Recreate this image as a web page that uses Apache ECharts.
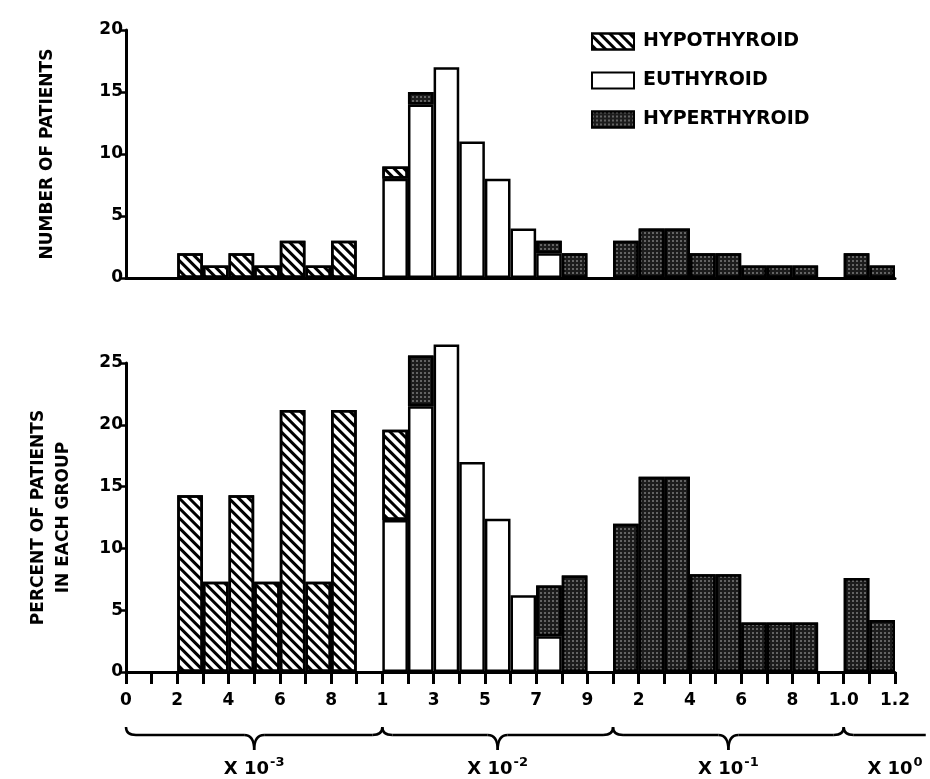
<!DOCTYPE html>
<html>
<head>
<meta charset="utf-8">
<script src="https://cdn.jsdelivr.net/npm/echarts@6/dist/echarts.min.js"></script>
<style>
  html, body { margin: 0; padding: 0; background: #fff; }
  #main { width: 930px; height: 779px; }
</style>
</head>
<body>
<div id="main"></div>
<script>
// bins: lower edge of each class (x10^-3 .. x10^0)
var bins = ['0.000','0.001','0.002','0.003','0.004','0.005','0.006','0.007','0.008','0.009',
            '0.01','0.02','0.03','0.04','0.05','0.06','0.07','0.08','0.09',
            '0.1','0.2','0.3','0.4','0.5','0.6','0.7','0.8','0.9',
            '1.0','1.1'];

// labels written under the tick marks (31 ticks)
var tickLabels = ['0','','2','','4','','6','','8','',
                  '1','','3','','5','','7','','9','',
                  '2','','4','','6','','8','','1.0','','1.2'];

// number of patients
var hypoCount  = [null,null,2,1,2,1,3,1,3,null, 1,null,null,null,null,null,null,null,null, null,null,null,null,null,null,null,null,null, null,null];
var euthCount  = [null,null,null,null,null,null,null,null,null,null, 8,14,17,11,8,4,2,null,null, null,null,null,null,null,null,null,null,null, null,null];
var hyperCount = [null,null,null,null,null,null,null,null,null,null, null,1,null,null,null,null,1,2,null, 3,4,4,2,2,1,1,1,null, 2,1];

// percent of patients in each group
var hypoPct  = [null,null,14.3,7.3,14.3,7.3,21.2,7.3,21.2,null, 7.3,null,null,null,null,null,null,null,null, null,null,null,null,null,null,null,null,null, null,null];
var euthPct  = [null,null,null,null,null,null,null,null,null,null, 12.3,21.5,26.5,17.0,12.4,6.2,2.9,null,null, null,null,null,null,null,null,null,null,null, null,null];
var hyperPct = [null,null,null,null,null,null,null,null,null,null, null,4.1,null,null,null,null,4.1,7.8,null, 12.0,15.8,15.8,7.9,7.9,4.0,4.0,4.0,null, 7.6,4.2];

// decade groups under the axis (tick index range + exponent)
var groupFrom = [0, 10, 19, 28];
var groupTo   = [10, 19, 28, 31.2];
var groupExp  = ['-3', '-2', '-1', '0'];

var FONT = 'DejaVu Sans';
var myChart = echarts.init(document.getElementById('main'));

var hypoStyle = {
    color: '#fff', borderColor: '#000', borderWidth: 2.5,
    decal: { symbol: 'rect', symbolSize: 1, color: '#000', dashArrayX: [1, 0], dashArrayY: [3, 4], rotation: Math.PI / 4 }
};
var euthStyle = { color: '#fff', borderColor: '#000', borderWidth: 2.5 };
var hyperStyle = {
    color: '#1c1c1c', borderColor: '#000', borderWidth: 2.5,
    decal: { symbol: 'rect', symbolSize: 0.7, color: 'rgba(255,255,255,0.6)', dashArrayX: [2, 2], dashArrayY: [2, 2] }
};

function yAxisOf(grid, max, name, gap) {
    return {
        type: 'value', gridIndex: grid, min: 0, max: max, interval: 5,
        name: name, nameLocation: 'middle', nameGap: gap, nameRotate: 90,
        nameTextStyle: { fontFamily: FONT, fontWeight: 'bold', fontSize: 17, color: '#000', lineHeight: 25, align: 'center' },
        axisLine: { show: true, lineStyle: { color: '#000', width: 3 } },
        axisTick: { show: true, length: 7, lineStyle: { color: '#000', width: 2.5 } },
        axisLabel: { fontFamily: FONT, fontWeight: 'bold', fontSize: 17, color: '#000', margin: 3 },
        splitLine: { show: false }
    };
}

function barSeries(name, x, y, stack, data, style) {
    return {
        name: name, type: 'bar', xAxisIndex: x, yAxisIndex: y, stack: stack,
        barCategoryGap: '0%', clip: false, data: data, itemStyle: style,
        emphasis: { disabled: true }
    };
}

var option = {
    animation: false,
    backgroundColor: '#fff',
    legend: {
        orient: 'vertical', left: 586, top: 27, itemGap: 20,
        itemWidth: 42, itemHeight: 16, icon: 'rect',
        data: ['HYPOTHYROID', 'EUTHYROID', 'HYPERTHYROID'],
        textStyle: { fontFamily: FONT, fontWeight: 'bold', fontSize: 19, color: '#000', padding: [0, 0, 0, 4] }
    },
    grid: [
        { left: 126, right: 35, top: 30, height: 248 },
        { left: 126, right: 35, top: 363, height: 309 }
    ],
    xAxis: [
        {
            type: 'category', gridIndex: 0, data: bins,
            axisLine: { lineStyle: { color: '#000', width: 3 } },
            axisTick: { show: false }, axisLabel: { show: false }
        },
        {
            type: 'category', gridIndex: 1, data: bins, position: 'bottom',
            axisLine: { lineStyle: { color: '#000', width: 3 } },
            axisTick: { show: true, interval: 0, length: 12, lineStyle: { color: '#000', width: 3 } },
            axisLabel: { show: false }
        },
        {
            type: 'value', gridIndex: 1, min: 0, max: 30, interval: 1, position: 'bottom',
            axisLine: { show: false }, axisTick: { show: false }, splitLine: { show: false },
            axisLabel: {
                margin: 20, fontFamily: FONT, fontWeight: 'bold', fontSize: 17, color: '#000',
                formatter: function (v) { return tickLabels[Math.round(v)] || ''; }
            }
        }
    ],
    yAxis: [
        yAxisOf(0, 20, 'NUMBER OF PATIENTS', 66),
        yAxisOf(1, 25, 'PERCENT OF PATIENTS\nIN EACH GROUP', 50)
    ],
    series: [
        barSeries('EUTHYROID', 0, 0, 'n', euthCount, euthStyle),
        barSeries('HYPOTHYROID', 0, 0, 'n', hypoCount, hypoStyle),
        barSeries('HYPERTHYROID', 0, 0, 'n', hyperCount, hyperStyle),
        barSeries('EUTHYROID', 1, 1, 'p', euthPct, euthStyle),
        barSeries('HYPOTHYROID', 1, 1, 'p', hypoPct, hypoStyle),
        barSeries('HYPERTHYROID', 1, 1, 'p', hyperPct, hyperStyle)
    ]
};
myChart.setOption(option);

// braces and multipliers under the lower axis
var y0 = myChart.convertToPixel({ yAxisIndex: 1 }, 0);
var yTop = y0 + 55, yLine = y0 + 63, yTip = y0 + 78;
var lineStyle = { stroke: '#000', lineWidth: 2.5, fill: null };
var graphics = [];
for (var i = 0; i < groupFrom.length; i++) {
    var xa = myChart.convertToPixel({ xAxisIndex: 2 }, groupFrom[i]);
    var xb = myChart.convertToPixel({ xAxisIndex: 2 }, groupTo[i]);
    var xm = (xa + xb) / 2;
    var last = i === groupFrom.length - 1;
    graphics.push({ type: 'bezierCurve', shape: { x1: xa, y1: yTop, cpx1: xa, cpy1: yLine, x2: xa + 10, y2: yLine }, style: lineStyle });
    if (!last) {
        graphics.push({ type: 'line', shape: { x1: xa + 10, y1: yLine, x2: xm - 10, y2: yLine }, style: lineStyle });
        graphics.push({ type: 'bezierCurve', shape: { x1: xm - 10, y1: yLine, cpx1: xm, cpy1: yLine, x2: xm, y2: yTip }, style: lineStyle });
        graphics.push({ type: 'bezierCurve', shape: { x1: xm, y1: yTip, cpx1: xm, cpy1: yLine, x2: xm + 10, y2: yLine }, style: lineStyle });
        graphics.push({ type: 'line', shape: { x1: xm + 10, y1: yLine, x2: xb - 10, y2: yLine }, style: lineStyle });
        graphics.push({ type: 'bezierCurve', shape: { x1: xb - 10, y1: yLine, cpx1: xb, cpy1: yLine, x2: xb, y2: yTop }, style: lineStyle });
    } else {
        graphics.push({ type: 'line', shape: { x1: xa + 10, y1: yLine, x2: xb, y2: yLine }, style: lineStyle });
    }
    var tx = last ? myChart.convertToPixel({ xAxisIndex: 2 }, 30) : xm;
    graphics.push({
        type: 'text', x: tx, y: y0 + 95,
        style: {
            text: '{b|X 10}{s|' + groupExp[i] + '}',
            align: 'center', verticalAlign: 'middle',
            rich: {
                b: { fontFamily: FONT, fontWeight: 'bold', fontSize: 18, fill: '#000', lineHeight: 22, verticalAlign: 'bottom' },
                s: { fontFamily: FONT, fontWeight: 'bold', fontSize: 13, fill: '#000', lineHeight: 22, verticalAlign: 'top', padding: [0, 0, 10, 1] }
            }
        }
    });
}
myChart.setOption({ graphic: graphics });
</script>
</body>
</html>
